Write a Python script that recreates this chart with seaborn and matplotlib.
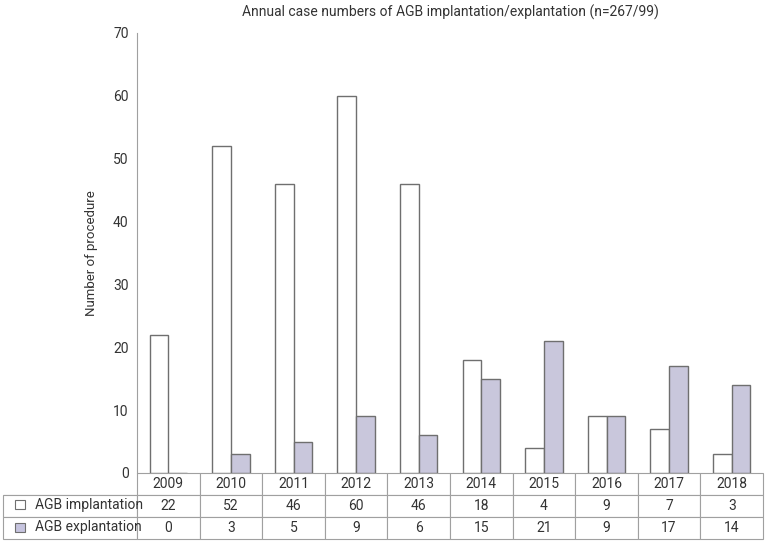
import pandas as pd
import seaborn as sns
import matplotlib.pyplot as plt
from matplotlib.patches import Rectangle

# --- DATA ---
YEARS = ["2009", "2010", "2011", "2012", "2013", "2014", "2015", "2016", "2017", "2018"]
IMPLANTATION = [22, 52, 46, 60, 46, 18, 4, 9, 7, 3]
EXPLANTATION = [0, 3, 5, 9, 6, 15, 21, 9, 17, 14]
SERIES = ["AGB implantation", "AGB explantation"]
TITLE = "Annual case numbers of AGB implantation/explantation (n=267/99)"
YLABEL = "Number of procedure"

COLORS = {"AGB implantation": "#ffffff", "AGB explantation": "#c6c4df"}
EDGE = "#6f6f6f"
TEXT = "#333333"
GRID = "#a0a0a0"

sns.set_style("white")
plt.rcParams["font.family"] = ["Roboto", "DejaVu Sans"]

df = pd.DataFrame(
    {
        "Year": YEARS * 2,
        "Type": [SERIES[0]] * len(YEARS) + [SERIES[1]] * len(YEARS),
        "Count": IMPLANTATION + EXPLANTATION,
    }
)

fig = plt.figure(figsize=(7.65, 5.41), dpi=100)
ax = fig.add_axes([137 / 765, 1 - 473 / 541, 626 / 765, 440 / 541])

sns.barplot(
    data=df, x="Year", y="Count", hue="Type", palette=COLORS, order=YEARS,
    hue_order=SERIES, width=0.6, gap=0, edgecolor=EDGE, linewidth=1.0,
    legend=False, ax=ax,
)

ax.set_xlim(-0.5, len(YEARS) - 0.5)
ax.set_ylim(0, 70)
ax.set_yticks(range(0, 71, 10))
ax.set_xticks([])
ax.set_xlabel("")
ax.set_ylabel(YLABEL, fontsize=9.5, color=TEXT, labelpad=11)
ax.tick_params(axis="y", direction="in", length=5, color=GRID, labelsize=10,
               labelcolor=TEXT, pad=6)
for side in ["top", "right", "bottom"]:
    ax.spines[side].set_visible(False)
ax.spines["left"].set_color(GRID)
ax.set_title(TITLE, fontsize=10, color=TEXT, pad=12)

# --- TABLE under the bars ---
cell_text = [[""] + YEARS,
             [""] + [str(v) for v in IMPLANTATION],
             [""] + [str(v) for v in EXPLANTATION]]
label_w = 134 / 626
col_w = 1.0 / len(YEARS)
tbl = ax.table(
    cellText=cell_text,
    colWidths=[label_w] + [col_w] * len(YEARS),
    cellLoc="center",
    bbox=[-label_w, -66 / 440, 1 + label_w, 66 / 440],
)
tbl.auto_set_font_size(False)
tbl.set_fontsize(10)
for (r, c), cell in tbl.get_celld().items():
    cell.set_edgecolor(GRID)
    cell.set_linewidth(0.8)
    cell.get_text().set_color(TEXT)
    if r == 0 and c == 0:
        cell.visible_edges = "B"

# row labels with colour keys
for i, name in enumerate(SERIES):
    yc = -(20 + 23 * i + 11.5) / 440
    ax.add_patch(Rectangle((-122 / 626, yc - 4.5 / 440), 10 / 626, 9 / 440,
                           transform=ax.transAxes, facecolor=COLORS[name],
                           edgecolor=EDGE, linewidth=0.8, clip_on=False))
    ax.text(-102 / 626, yc, name, transform=ax.transAxes, fontsize=10,
            color=TEXT, ha="left", va="center")

fig.savefig("out.png", dpi=100)
